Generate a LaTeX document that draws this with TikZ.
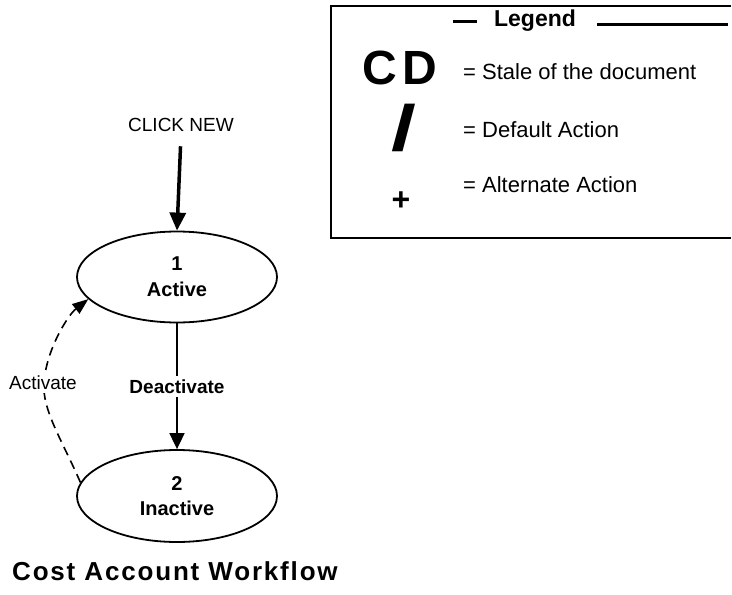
\documentclass[tikz,border=0pt]{standalone}
\usepackage{fontspec}
\setmainfont{Liberation Sans}
\usepackage{graphicx}
\usetikzlibrary{arrows.meta,shapes.geometric}

\begin{document}
\begin{tikzpicture}[x=1pt,y=-1pt,
	state/.style={draw, ellipse, line width=1.8pt, minimum width=200pt, minimum height=91pt, inner sep=0pt, align=center, font=\bfseries\fontsize{20}{26}\selectfont},
	item/.style={anchor=west, inner sep=0pt, font=\fontsize{22}{26}\selectfont},
	rule/.style={line width=3pt}]
	\useasboundingbox (0,0) rectangle (732,595);

	\node[font=\fontsize{19}{23}\selectfont] (click) at (181,125) {CLICK NEW};
	\node[state] (S1) at (177,277) {1\\Active};
	\node[state, minimum height=92pt, font=\bfseries\fontsize{20}{25}\selectfont] (S2) at (177,496) {2\\Inactive};

	\draw[line width=3.5pt, shorten <=11pt, -{Triangle[width=16pt,length=18pt]}] (click.south) -- (S1.north);
	\draw[line width=1.8pt, -{Triangle[width=15pt,length=16pt]}] (S1.south) -- node[fill=white, font=\bfseries\fontsize{19}{23}\selectfont] (deact) {Deactivate} (S2.north);
	\draw[line width=1.6pt, dash pattern=on 9pt off 6pt, -{Triangle[width=12pt,length=16pt]}] (S2.172) .. controls (62,440) and (42,410) .. (44,383) .. controls (46,350) and (68,315) .. (S1.194);
	\node[fill=white, font=\fontsize{19}{23}\selectfont] (act) at (43,383) {Activate};

	\draw[line width=1.5pt] (731,6) -- (331,6) -- (331,238) -- (731,238);
	\node[font=\bfseries\fontsize{23}{27}\selectfont] (legend) at (535,21) {Legend};
	\draw[rule] (453,21) -- (477,21);
	\draw[rule] (597,24) -- (728,24);

	\node[font=\bfseries\fontsize{48}{52}\selectfont] (cd) at (400,68) {C\hspace{5pt}D};
	\node[item] (cdtext) at (463,72) {= Stale of the document};
	\node[font=\bfseries\fontsize{64}{70}\selectfont] (dflt) at (404,128) {\scalebox{1.4}[1]{/}};
	\node[item] (dflttext) at (463,130) {= Default Action};
	\node[font=\bfseries\fontsize{32}{36}\selectfont] (alt) at (401,201) {+};
	\node[item] (alttext) at (463,185) {= Alternate Action};

	\node[anchor=west, inner sep=0pt, font=\bfseries\fontsize{26}{30}\selectfont\addfontfeatures{LetterSpace=7}] (title) at (12,571) {Cost Account Workflow};
\end{tikzpicture}
\end{document}
